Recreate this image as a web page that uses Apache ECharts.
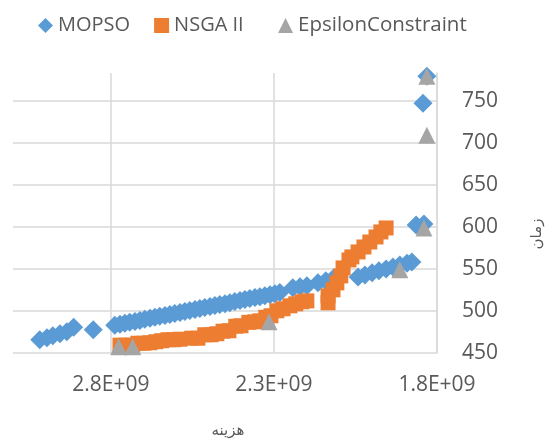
<!DOCTYPE html>
<html>
<head>
<meta charset="utf-8">
<script src="https://cdn.jsdelivr.net/npm/echarts@6/dist/echarts.min.js"></script>
<style>
  html, body { margin: 0; padding: 0; background: #ffffff; }
  #chart { width: 552px; height: 441px; }
</style>
</head>
<body>
<div id="chart"></div>
<script>
// Cost (هزینه) and time (زمان) of the Pareto fronts found by each method
const seriesNames = ['MOPSO', 'NSGA II', 'EpsilonConstraint'];

const mopsoCost = [
  3.018e9, 2.996e9, 2.978e9, 2.956e9, 2.935e9, 2.914e9, 2.854e9,
  2.788e9, 2.772e9, 2.757e9, 2.742e9, 2.726e9, 2.711e9, 2.696e9, 2.680e9, 2.665e9, 2.650e9,
  2.634e9, 2.619e9, 2.604e9, 2.588e9, 2.573e9, 2.558e9, 2.542e9, 2.527e9, 2.512e9, 2.496e9,
  2.481e9, 2.466e9, 2.450e9, 2.435e9, 2.420e9, 2.404e9, 2.389e9, 2.374e9, 2.358e9, 2.343e9,
  2.328e9, 2.312e9, 2.297e9, 2.282e9, 2.242e9, 2.220e9, 2.199e9, 2.165e9, 2.141e9, 2.116e9,
  2.042e9, 2.021e9, 1.999e9, 1.978e9, 1.956e9, 1.935e9, 1.914e9, 1.892e9, 1.877e9,
  1.864e9, 1.840e9, 1.843e9, 1.831e9
];
const mopsoTime = [
  465.8, 468.2, 470.5, 472.9, 475.3, 480.6, 477.6,
  483.0, 484.2, 485.4, 486.5, 487.6, 488.8, 490.0, 491.2, 492.4, 493.6,
  494.7, 495.8, 497.0, 498.2, 499.4, 500.6, 501.7, 502.9, 504.1, 505.3,
  506.5, 507.6, 508.7, 509.9, 511.1, 512.3, 513.5, 514.7, 515.9, 517.0,
  518.2, 519.4, 520.6, 522.1, 527.5, 528.7, 529.9, 533.4, 535.8, 539.4,
  540.5, 542.9, 545.3, 547.7, 550.0, 552.4, 554.8, 556.6, 558.3,
  602.3, 603.4, 747.0, 779.0
];

const nsgaCost = [
  2.772e9, 2.754e9, 2.733e9, 2.717e9, 2.699e9, 2.680e9, 2.662e9, 2.644e9, 2.625e9, 2.607e9,
  2.588e9, 2.552e9, 2.533e9, 2.512e9, 2.493e9, 2.475e9, 2.456e9, 2.438e9, 2.417e9, 2.401e9,
  2.377e9, 2.358e9, 2.343e9, 2.325e9, 2.309e9, 2.291e9, 2.272e9, 2.251e9, 2.233e9, 2.214e9,
  2.199e9,
  2.134e9, 2.134e9, 2.119e9, 2.107e9, 2.095e9, 2.088e9, 2.070e9, 2.061e9, 2.042e9, 2.024e9,
  2.006e9, 1.987e9, 1.972e9, 1.956e9
];
const nsgaTime = [
  459.3, 459.3, 459.3, 461.6, 461.6, 462.2, 463.4, 464.6, 465.8, 465.8,
  466.4, 467.6, 467.6, 471.7, 471.7, 472.9, 475.9, 476.5, 481.8, 482.4,
  486.5, 487.1, 488.3, 492.5, 494.3, 500.2, 502.6, 506.1, 508.5, 510.9,
  512.0,
  509.7, 518.0, 525.1, 533.4, 541.7, 551.2, 560.7, 564.3, 570.2, 576.1,
  582.0, 588.0, 594.0, 598.7
];

const epsCost = [2.776e9, 2.733e9, 2.315e9, 1.914e9, 1.840e9, 1.831e9, 1.831e9];
const epsTime = [457.5, 457.5, 487.1, 548.9, 598.7, 709.0, 779.0];

const costTicks = [1.8e9, 2.3e9, 2.8e9];
const timeTicks = [450, 500, 550, 600, 650, 700, 750];

function pairs(xs, ys) {
  return xs.map((x, i) => [x, ys[i]]);
}

const textGrey = '#595959';
const gridGrey = '#d9d9d9';
const latinFont = '"Open Sans", "Noto Sans", sans-serif';
const arabicFont = '"DejaVu Sans", "Noto Sans", sans-serif';

const chart = echarts.init(document.getElementById('chart'), null, { renderer: 'canvas' });

chart.setOption({
  animation: false,
  backgroundColor: '#ffffff',
  legend: {
    left: 33,
    top: 10,
    itemWidth: 15,
    itemHeight: 15,
    itemGap: 24,
    textStyle: { color: textGrey, fontSize: 20, fontFamily: latinFont },
    // a little extra room after the middle entry
    formatter: name => (name === seriesNames[1] ? name + '  ' : name),
    data: [
      { name: seriesNames[0], icon: 'diamond' },
      { name: seriesNames[1], icon: 'rect' },
      { name: seriesNames[2], icon: 'triangle', textStyle: { fontSize: 20.5 } }
    ]
  },
  grid: { left: 13, right: 115, top: 73, bottom: 88, containLabel: false, outerBoundsMode: 'none' },
  xAxis: {
    type: 'value',
    inverse: true,
    min: 1.8e9,
    max: 3.1e9,
    name: 'هزینه',
    nameLocation: 'middle',
    nameGap: 71,
    nameTextStyle: { color: textGrey, fontSize: 15, fontFamily: arabicFont, padding: [0, 0, 0, 6] },
    axisLine: { show: false },
    axisTick: { show: false, customValues: costTicks },
    axisLabel: {
      customValues: costTicks,
      margin: 22,
      color: textGrey,
      fontSize: 21,
      fontFamily: latinFont,
      formatter: v => (v / 1e9).toFixed(1) + 'E+09'
    },
    splitLine: { show: true, lineStyle: { color: gridGrey, width: 1.5 } }
  },
  yAxis: {
    type: 'value',
    position: 'right',
    min: 450,
    max: 783,
    interval: 50,
    name: 'زمان',
    nameLocation: 'middle',
    nameGap: 93,
    nameRotate: 90,
    nameTextStyle: { color: textGrey, fontSize: 15, fontFamily: arabicFont, padding: [0, 42, 0, 0] },
    axisLine: { show: true, lineStyle: { color: gridGrey, width: 1.5 } },
    axisTick: { show: false, customValues: timeTicks },
    axisLabel: {
      customValues: timeTicks,
      margin: 25,
      color: textGrey,
      fontSize: 21,
      fontFamily: latinFont
    },
    splitLine: { show: true, lineStyle: { color: gridGrey, width: 1.5 } }
  },
  series: [
    {
      name: seriesNames[0],
      type: 'scatter',
      symbol: 'diamond',
      symbolSize: 19,
      itemStyle: { color: '#5b9bd5', opacity: 1 },
      data: pairs(mopsoCost, mopsoTime)
    },
    {
      name: seriesNames[1],
      type: 'scatter',
      symbol: 'rect',
      symbolSize: 15,
      itemStyle: { color: '#ed7d31', opacity: 1 },
      data: pairs(nsgaCost, nsgaTime)
    },
    {
      name: seriesNames[2],
      type: 'scatter',
      symbol: 'triangle',
      symbolSize: 17,
      itemStyle: { color: '#a5a5a5', opacity: 1 },
      data: pairs(epsCost, epsTime)
    }
  ]
});
</script>
</body>
</html>
